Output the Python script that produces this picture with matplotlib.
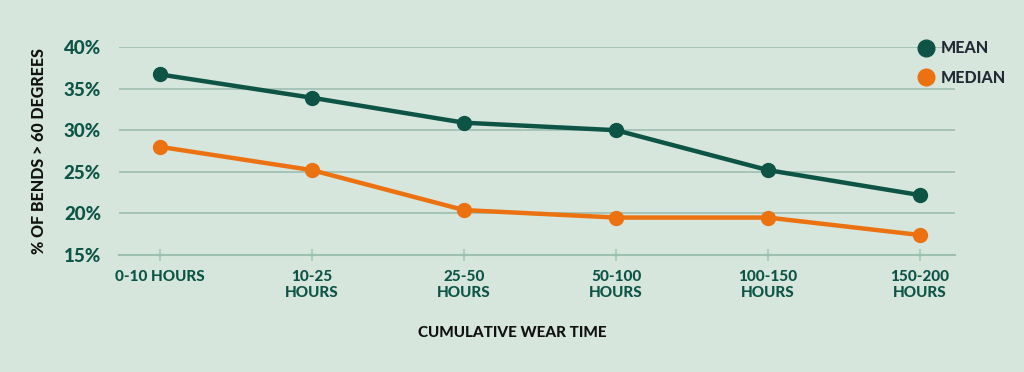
import matplotlib
matplotlib.use("Agg")
import matplotlib.pyplot as plt
from matplotlib.lines import Line2D

# Daten
kategorien = ["0-10 HOURS", "10-25\nHOURS", "25-50\nHOURS", "50-100\nHOURS", "100-150\nHOURS", "150-200\nHOURS"]
mean_werte = [36.7, 33.9, 30.9, 30.0, 25.2, 22.2]
median_werte = [28.0, 25.2, 20.4, 19.5, 19.5, 17.4]
y_ticks = [15, 20, 25, 30, 35, 40]

bg = "#d6e6dc"
gruen = "#0d5447"
orange = "#ec7211"
gitter = "#9dbfb1"

plt.rcParams["font.family"] = ["Lato", "DejaVu Sans"]

fig = plt.figure(figsize=(10.24, 3.72), dpi=100, facecolor=bg)
ax = fig.add_axes([119 / 1024, 1 - 255 / 372, (955 - 119) / 1024, (255 - 47) / 372])
ax.set_facecolor(bg)

x = list(range(len(kategorien)))
ax.plot(x, mean_werte, color=gruen, linewidth=3.2, marker="o", markersize=10, zorder=4)
ax.plot(x, median_werte, color=orange, linewidth=3.2, marker="o", markersize=10, zorder=3)

ax.set_xlim(-0.27, 5.23)
ax.set_ylim(15, 40)
ax.set_yticks(y_ticks)
ax.set_yticklabels([f"{v}%" for v in y_ticks])
ax.set_xticks(x)
ax.set_xticklabels(kategorien)

for v in y_ticks[1:]:
    ax.axhline(v, color=gitter, linewidth=1.2, zorder=1)

for s in ["top", "right", "left"]:
    ax.spines[s].set_visible(False)
ax.spines["bottom"].set_color(gitter)
ax.spines["bottom"].set_linewidth(1.5)

ax.tick_params(axis="y", length=0, pad=13, labelsize=13.5, labelcolor=gruen)
ax.tick_params(axis="x", direction="inout", length=9, width=1.5, color="#a9cfb5",
               pad=6, labelsize=11, labelcolor=gruen)
for lbl in ax.get_xticklabels() + ax.get_yticklabels():
    lbl.set_fontweight("black")

ax.set_ylabel("% OF BENDS > 60 DEGREES", fontsize=11.5, fontweight="black", color="#111111", labelpad=12)
fig.text(512 / 1024, 1 - 333 / 372, "CUMULATIVE WEAR TIME", ha="center", va="center",
         fontsize=11, fontweight="black", color="#111111")

handles = [
    Line2D([], [], linestyle="none", marker="o", markersize=12, color=gruen, label="MEAN"),
    Line2D([], [], linestyle="none", marker="o", markersize=12, color=orange, label="MEDIAN"),
]
leg = fig.legend(handles=handles, loc="upper left", bbox_to_anchor=(902 / 1024, 1 - 26 / 372),
                 frameon=False, handletextpad=0.35, labelspacing=0.85, handlelength=1.2,
                 prop={"weight": "black", "size": 11.5})
for t in leg.get_texts():
    t.set_color("#222a36")

fig.savefig("out.png", dpi=100, facecolor=bg)
